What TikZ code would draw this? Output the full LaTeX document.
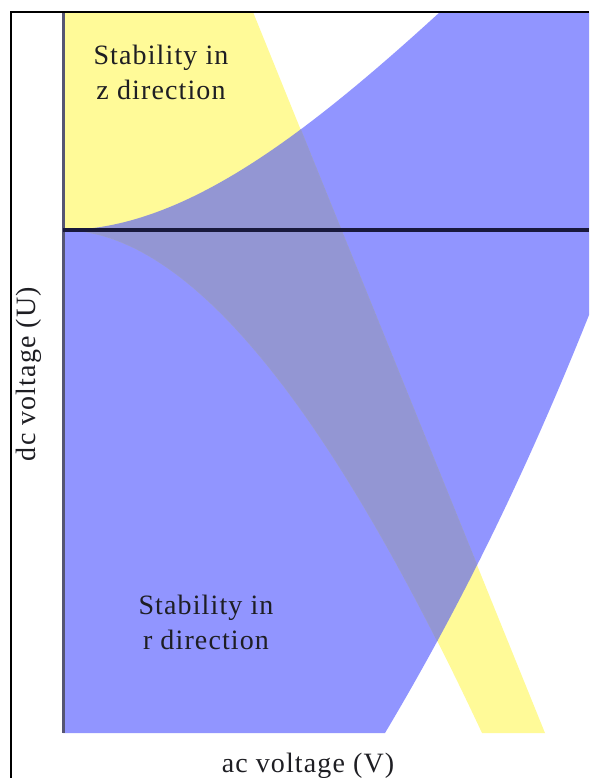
\documentclass[tikz,border=0pt]{standalone}
\usepackage{fontspec}
\newfontfamily\lblfont[LetterSpace=4]{Liberation Serif}
\definecolor{rblue}{RGB}{145,149,255}
\definecolor{zyellow}{RGB}{255,250,152}
\definecolor{overlapc}{RGB}{147,150,211}
\definecolor{axisc}{RGB}{85,85,115}
\definecolor{hlinec}{RGB}{25,25,60}
\definecolor{textc}{RGB}{30,30,35}
\begin{document}
\begin{tikzpicture}[x=1pt,y=-1pt,
  lbl/.style={inner sep=0pt, font=\lblfont\fontsize{28}{35}\selectfont, text=textc},
  framestyle/.style={draw=black, line width=2.8pt},
  axisstyle/.style={draw=axisc, line width=3pt},
  hlinestyle/.style={draw=hlinec, line width=3.2pt}]
\useasboundingbox (0,0) rectangle (589,778);
\clip (0,0) rectangle (589,778);
% region of r stability
\fill[rblue] (63,733) -- (63,230) .. controls (180,230) and (300,140) .. (440,12)
  -- (589,12) -- (589,315) .. controls (533,455) and (469,592) .. (385,733) -- cycle;
% region of z stability
\fill[zyellow] (63,12) -- (253,12) -- (545,733) -- (482,733)
  .. controls (345,440) and (200,230) .. (63,230) -- cycle;
% overlap
\begin{scope}
  \clip (63,733) -- (63,230) .. controls (180,230) and (300,140) .. (440,12)
    -- (589,12) -- (589,315) .. controls (533,455) and (469,592) .. (385,733) -- cycle;
  \filldraw[fill=overlapc, draw=overlapc, line width=0.7pt] (63,12) -- (253,12) -- (545,733) -- (482,733)
    .. controls (345,440) and (200,230) .. (63,230) -- cycle;
\end{scope}
% axes
\coordinate (origin) at (63,230);
\coordinate (axtop) at (63,12);
\coordinate (axbot) at (63,733);
\coordinate (hend) at (589,230);
\draw[axisstyle] (axtop) -- (axbot);
\draw[hlinestyle] (origin) -- (hend);
% frame
\coordinate (fbl) at (11,778);
\coordinate (ftl) at (11,12);
\coordinate (ftr) at (589,12);
\draw[framestyle] (fbl) -- (ftl) -- (ftr);
% labels
\node[lbl, anchor=north, align=center] (zlabel) at (161,45) {Stability in\\z direction};
\node[lbl, anchor=north, align=center] (rlabel) at (206,595) {Stability in\\r direction};
\node[lbl, rotate=90] (ulabel) at (29,374) {dc voltage (U)};
\node[lbl, anchor=base] (vlabel) at (308,772) {ac voltage (V)};
\end{tikzpicture}
\end{document}
